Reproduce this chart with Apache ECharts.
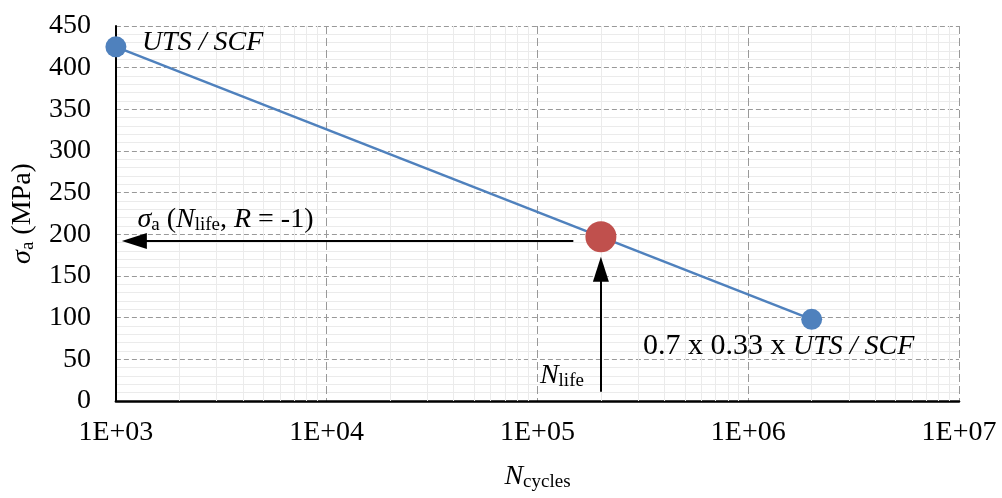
<!DOCTYPE html>
<html>
<head>
<meta charset="utf-8">
<script src="https://cdn.jsdelivr.net/npm/echarts@6/dist/echarts.min.js"></script>
<style>
html, body { margin: 0; padding: 0; background: #fff; }
#main { width: 1002px; height: 498px; }
</style>
</head>
<body>
<div id="main"></div>
<script>
// S-N curve end points (cycles, stress amplitude MPa)
var curvePoints = [[1e3, 425], [2e6, 98]];
var lifePoint = [[2e5, 197]];
// annotation arrows (start, end)
var stressArrow = [[1.48e5, 192], [1224, 192]];
var lifeArrow = [[2e5, 11], [2e5, 158]];
// minor log gridlines
var minorCycles = [2e3, 3e3, 4e3, 5e3, 6e3, 7e3, 8e3, 9e3,
    2e4, 3e4, 4e4, 5e4, 6e4, 7e4, 8e4, 9e4,
    2e5, 3e5, 4e5, 5e5, 6e5, 7e5, 8e5, 9e5,
    2e6, 3e6, 4e6, 5e6, 6e6, 7e6, 8e6, 9e6];
var xTickLabels = ['1E+03', '1E+04', '1E+05', '1E+06', '1E+07'];

var serif = 'Liberation Serif';
var rich = {
    i: { fontFamily: serif, fontStyle: 'italic', fontSize: 28, lineHeight: 32, color: '#000' },
    r: { fontFamily: serif, fontSize: 28, lineHeight: 32, color: '#000' },
    rw: { fontFamily: serif, fontSize: 30, lineHeight: 32, color: '#000' },
    sub: { fontFamily: serif, fontSize: 19, lineHeight: 19, padding: [11, 0, 0, 0], color: '#000' }
};

var myChart = echarts.init(document.getElementById('main'));
var option = {
    animation: false,
    grid: { left: 114, right: 43, top: 26, bottom: 97 },
    xAxis: {
        type: 'log',
        logBase: 10,
        min: 1e3,
        max: 1e7,
        name: '{i|N}{sub|cycles}',
        nameLocation: 'middle',
        nameGap: 60,
        nameTextStyle: { rich: rich },
        axisLine: { show: true, onZero: false, lineStyle: { color: '#000', width: 2.5 } },
        axisTick: { show: false },
        axisLabel: {
            margin: 18,
            fontFamily: serif,
            fontSize: 28,
            color: '#000',
            formatter: function (v) {
                return xTickLabels[Math.round(Math.log10(v)) - 3];
            }
        },
        splitLine: { show: true, lineStyle: { color: '#999', width: 1, type: [8, 4] } }
    },
    yAxis: {
        type: 'value',
        min: 0,
        max: 450,
        interval: 50,
        name: '{i|σ}{sub|a}{r| (MPa)}',
        nameLocation: 'middle',
        nameGap: 76,
        nameTextStyle: { rich: rich },
        axisLine: { show: true, lineStyle: { color: '#000', width: 2 } },
        axisTick: { show: false },
        axisLabel: { margin: 25, fontFamily: serif, fontSize: 28, color: '#000' },
        splitLine: { show: true, lineStyle: { color: '#999', width: 1, type: [5, 3] } },
        minorTick: { show: false, splitNumber: 5 },
        minorSplitLine: { show: true, lineStyle: { color: '#ebebeb', width: 1 } }
    },
    series: [
        {
            // minor vertical grid
            type: 'line',
            data: [],
            silent: true,
            markLine: {
                silent: true,
                z: 1,
                symbol: 'none',
                label: { show: false },
                lineStyle: { color: '#ebebeb', width: 1, type: 'solid' },
                data: minorCycles.map(function (c) { return { xAxis: c }; })
            }
        },
        {
            type: 'line',
            data: curvePoints,
            symbol: 'circle',
            symbolSize: 21,
            itemStyle: { color: '#4F81BD' },
            lineStyle: { color: '#4F81BD', width: 2.5 },
            z: 3,
            markPoint: {
                symbol: 'circle',
                symbolSize: 0,
                data: [
                    {
                        coord: curvePoints[0],
                        label: { show: true, position: 'inside', align: 'left', offset: [26, -4],
                            formatter: '{i|UTS / SCF}', rich: rich }
                    },
                    {
                        coord: curvePoints[1],
                        label: { show: true, position: 'inside', align: 'center', offset: [-33, 27],
                            formatter: '{rw|0.7 x 0.33 x }{i|UTS / SCF}', rich: rich }
                    },
                    {
                        coord: stressArrow[1],
                        label: { show: true, position: 'inside', align: 'left', offset: [3, -21],
                            formatter: '{i|σ}{sub|a}{r| (}{i|N}{sub|life}{r|, }{i|R}{r| = -1)}', rich: rich }
                    },
                    {
                        coord: lifeArrow[0],
                        label: { show: true, position: 'inside', align: 'right', offset: [-17, -16],
                            formatter: '{i|N}{sub|life}', rich: rich }
                    }
                ]
            }
        },
        {
            type: 'scatter',
            data: lifePoint,
            symbolSize: 31,
            itemStyle: { color: '#C0504D', opacity: 1 },
            z: 4,
            markLine: {
                silent: true,
                symbol: ['none', 'triangle'],
                symbolSize: [16, 25],
                label: { show: false },
                lineStyle: { color: '#000', width: 2, type: 'solid' },
                itemStyle: { color: '#000' },
                data: [
                    [{ coord: stressArrow[0] }, { coord: stressArrow[1] }],
                    [{ coord: lifeArrow[0] }, { coord: lifeArrow[1] }]
                ]
            }
        }
    ]
};
myChart.setOption(option, true);
</script>
</body>
</html>
